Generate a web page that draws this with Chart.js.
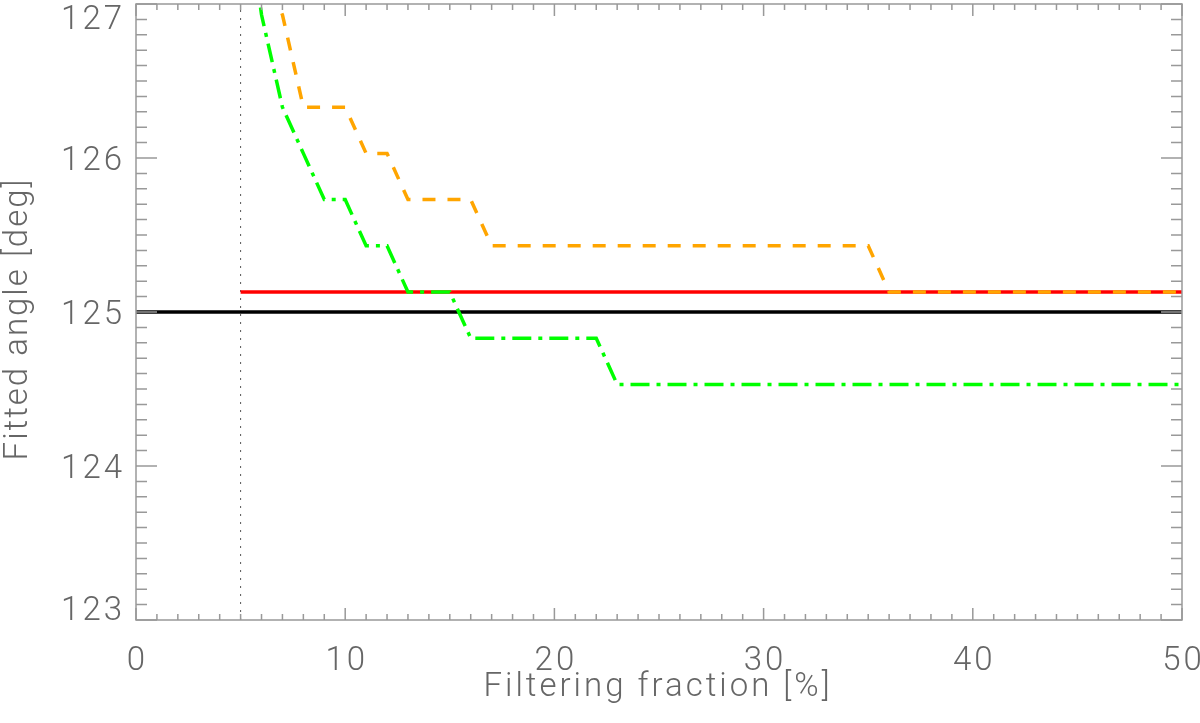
<!DOCTYPE html>
<html>
<head>
<meta charset="utf-8">
<script src="https://cdn.jsdelivr.net/npm/chart.js@4"></script>
<style>
  html, body { margin: 0; padding: 0; background: #fff; }
  #wrap { width: 1200px; height: 723px; position: relative; }
</style>
</head>
<body>
<div id="wrap"><canvas id="myChart"></canvas></div>
<script>
// filtering fraction [%]
const fraction = [5, 6, 7, 8, 9, 10, 11, 12, 13, 14, 15, 16, 17, 18, 19, 20,
  21, 22, 23, 24, 25, 26, 27, 28, 29, 30, 31, 32, 33, 34, 35, 36, 37, 38, 39, 40,
  41, 42, 43, 44, 45, 46, 47, 48, 49, 50];

// fitted angle [deg], dashed orange curve
const angleOrange = [128.2, 127.23, 126.93, 126.33, 126.33, 126.33, 126.03, 126.03,
  125.73, 125.73, 125.73, 125.73,
  125.43, 125.43, 125.43, 125.43, 125.43, 125.43, 125.43, 125.43, 125.43, 125.43,
  125.43, 125.43, 125.43, 125.43, 125.43, 125.43, 125.43, 125.43, 125.43,
  125.13, 125.13, 125.13, 125.13, 125.13, 125.13, 125.13, 125.13, 125.13, 125.13,
  125.13, 125.13, 125.13, 125.13, 125.13];

// fitted angle [deg], dash-dot green curve
const angleGreen = [127.93, 126.93, 126.33, 126.03, 125.73, 125.73, 125.43, 125.43,
  125.13, 125.13, 125.13,
  124.83, 124.83, 124.83, 124.83, 124.83, 124.83, 124.83,
  124.53, 124.53, 124.53, 124.53, 124.53, 124.53, 124.53, 124.53, 124.53, 124.53,
  124.53, 124.53, 124.53, 124.53, 124.53, 124.53, 124.53, 124.53, 124.53, 124.53,
  124.53, 124.53, 124.53, 124.53, 124.53, 124.53, 124.53, 124.53];

// red solid level and black true angle
const redX = [5, 50];
const redAngle = [125.13, 125.13];
const trueX = [0, 50];
const trueAngle = [125, 125];

// dotted cut line
const cutX = [5, 5];
const cutY = [123, 127];

const xTicks = [0, 10, 20, 30, 40, 50];
const yTicks = [123, 124, 125, 126, 127];

const toPts = (xs, ys) => xs.map((x, i) => ({ x: x, y: ys[i] }));

const FONT = '300 33px Roboto, Lato, "Open Sans", sans-serif';
const AXIS = '#999';
const TEXT = '#666';

const idlAxes = {
  id: 'idlAxes',
  afterDraw(chart) {
    const ctx = chart.ctx;
    const xs = chart.scales.x, ys = chart.scales.y;
    const a = chart.chartArea;
    ctx.save();
    ctx.strokeStyle = AXIS;
    ctx.lineWidth = 1.5;
    ctx.strokeRect(a.left, a.top, a.right - a.left, a.bottom - a.top);

    // inward ticks on all four sides
    ctx.beginPath();
    for (let v = 0; v <= 50; v++) {
      const px = xs.getPixelForValue(v);
      const len = v % 10 === 0 ? 12 : 6;
      ctx.moveTo(px, a.bottom); ctx.lineTo(px, a.bottom - len);
      ctx.moveTo(px, a.top); ctx.lineTo(px, a.top + len);
    }
    for (let k = 0; k <= 40; k++) {
      const v = 123 + k / 10;
      const py = ys.getPixelForValue(v);
      const len = k % 10 === 0 ? 21 : 11;
      ctx.moveTo(a.left, py); ctx.lineTo(a.left + len, py);
      ctx.moveTo(a.right, py); ctx.lineTo(a.right - len, py);
    }
    ctx.stroke();

    ctx.fillStyle = TEXT;
    ctx.font = FONT;
    ctx.letterSpacing = '3px';
    ctx.textBaseline = 'alphabetic';

    ctx.textAlign = 'center';
    xTicks.forEach(v => {
      ctx.fillText(String(v), xs.getPixelForValue(v) + 1.5, 670);
    });

    ctx.textAlign = 'right';
    yTicks.forEach(v => {
      let base = ys.getPixelForValue(v) + 12;
      base = Math.max(a.top + 25, Math.min(a.bottom, base));
      ctx.fillText(String(v), 125, base);
    });

    ctx.textAlign = 'center';
    ctx.fillText('Filtering fraction [%]', 658, 696);

    ctx.letterSpacing = '2px';
    ctx.translate(27, 313);
    ctx.rotate(-Math.PI / 2);
    ctx.fillText('Fitted angle [deg]', -6, 0);
    ctx.restore();
  }
};

const ctx = document.getElementById('myChart');

new Chart(ctx, {
  type: 'scatter',
  data: {
    datasets: [
      {
        label: 'green',
        data: toPts(fraction, angleGreen),
        showLine: true,
        borderColor: '#00ff00',
        borderWidth: 3.5,
        borderDash: [19, 7, 4, 7],
        pointRadius: 0,
        clip: 0
      },
      {
        label: 'orange',
        data: toPts(fraction, angleOrange),
        showLine: true,
        borderColor: '#ffa500',
        borderWidth: 3.5,
        borderDash: [13, 12],
        pointRadius: 0,
        clip: 0
      },
      {
        label: 'red',
        data: toPts(redX, redAngle),
        showLine: true,
        borderColor: '#ff0000',
        borderWidth: 3.5,
        pointRadius: 0,
        clip: 0
      },
      {
        label: 'true',
        data: toPts(trueX, trueAngle),
        showLine: true,
        borderColor: '#000000',
        borderWidth: 3.5,
        pointRadius: 0,
        clip: 0
      },
      {
        label: 'cut',
        data: toPts(cutX, cutY),
        showLine: true,
        borderColor: '#555',
        borderWidth: 1,
        borderDash: [2, 6],
        pointRadius: 0,
        clip: 0
      }
    ]
  },
  options: {
    responsive: true,
    maintainAspectRatio: false,
    animation: false,
    layout: { padding: { left: 136, right: 18, top: 4, bottom: 103 } },
    plugins: {
      legend: { display: false },
      tooltip: { enabled: false }
    },
    scales: {
      x: { type: 'linear', min: 0, max: 50, display: false },
      y: { type: 'linear', min: 123, max: 127, display: false }
    }
  },
  plugins: [idlAxes]
});
</script>
</body>
</html>
